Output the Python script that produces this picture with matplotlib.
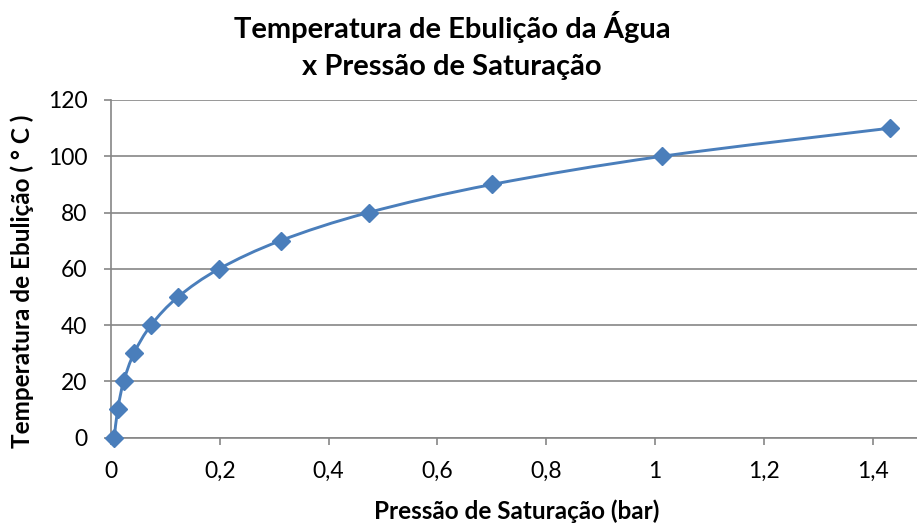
import numpy as np
import matplotlib.pyplot as plt
from matplotlib.path import Path
from matplotlib.patches import PathPatch

# Saturation pressure of water (bar) vs boiling temperature (°C)
pressao = [0.0061, 0.0123, 0.0234, 0.0424, 0.0738, 0.1234, 0.1992,
           0.3119, 0.4736, 0.7011, 1.0133, 1.4327]
temperatura = [0, 10, 20, 30, 40, 50, 60, 70, 80, 90, 100, 110]

x_ticks = [0, 0.2, 0.4, 0.6, 0.8, 1.0, 1.2, 1.4]
x_tick_labels = ["0", "0,2", "0,4", "0,6", "0,8", "1", "1,2", "1,4"]
y_ticks = [0, 20, 40, 60, 80, 100, 120]

azul = "#4A7EBB"
cinza = "#868686"

plt.rcParams["font.family"] = ["Lato", "DejaVu Sans"]

fig = plt.figure(figsize=(9.17, 5.23), dpi=100)
ax = fig.add_axes([111 / 917, 1 - 437.5 / 523, (917 - 111) / 917, (437.5 - 100) / 523])

# smoothed line: Catmull-Rom segments as cubic Bezier curves
pts = np.column_stack([pressao, temperatura])
verts = [pts[0]]
codes = [Path.MOVETO]
n = len(pts)
for i in range(n - 1):
    p0 = pts[max(i - 1, 0)]
    p1 = pts[i]
    p2 = pts[i + 1]
    p3 = pts[min(i + 2, n - 1)]
    c1 = p1 + (p2 - p0) / 6.0
    c2 = p2 - (p3 - p1) / 6.0
    verts += [c1, c2, p2]
    codes += [Path.CURVE4] * 3
curva = PathPatch(Path(verts, codes), facecolor="none", edgecolor=azul,
                  linewidth=2.1, zorder=3)
ax.add_patch(curva)
ax.plot(pressao, temperatura, linestyle="none", marker="D", markersize=9.3,
        color=azul, zorder=4, clip_on=False)

ax.set_xlim(0, (917 - 111) / 544)
ax.set_ylim(0, 120)
ax.set_xticks(x_ticks)
ax.set_xticklabels(x_tick_labels)
ax.set_yticks(y_ticks)
ax.tick_params(axis="both", labelsize=16.5, colors=cinza, labelcolor="black",
               length=5, width=1.2, direction="out")
ax.tick_params(axis="y", pad=12)
ax.tick_params(axis="x", pad=12)
ax.grid(axis="y", color=cinza, linewidth=1.2)
ax.set_axisbelow(True)
for lado in ["top", "right"]:
    ax.spines[lado].set_visible(False)
for lado in ["left", "bottom"]:
    ax.spines[lado].set_color(cinza)
    ax.spines[lado].set_linewidth(1.2)

fig.text(452 / 917, 1 - 27 / 523, "Temperatura de Ebulição da Água",
         ha="center", va="center", fontsize=21, fontweight="bold")
fig.text(452 / 917, 1 - 67 / 523, "x Pressão de Saturação",
         ha="center", va="center", fontsize=21, fontweight="bold")
fig.text(517 / 917, 1 - 511 / 523, "Pressão de Saturação (bar)",
         ha="center", va="center", fontsize=17.5, fontweight="bold")
fig.text(22 / 917, 1 - 281 / 523, "Temperatura de Ebulição ( ° C )",
         ha="center", va="center", rotation=90, fontsize=17.5, fontweight="bold")

fig.savefig("out.png", dpi=100)
